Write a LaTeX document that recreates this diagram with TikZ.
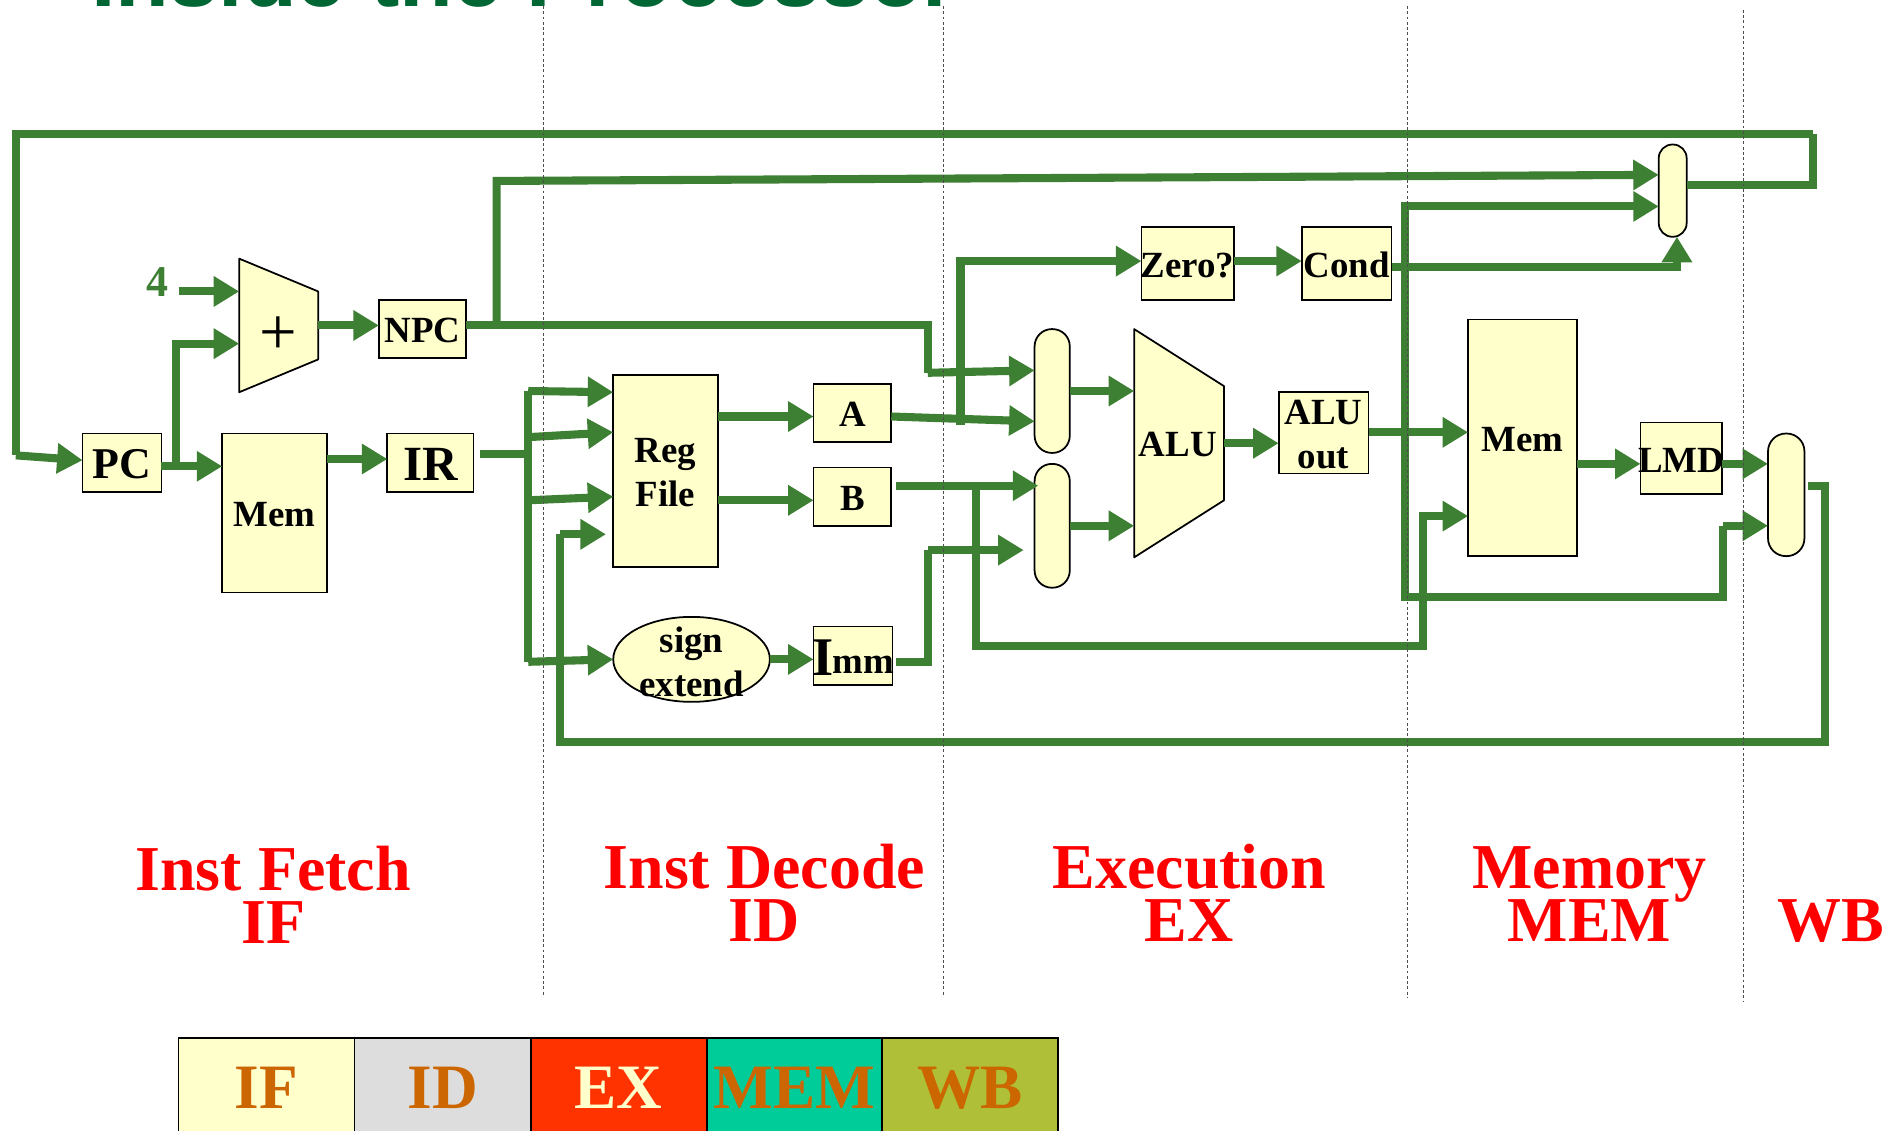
\documentclass[tikz,border=0pt]{standalone}
\usepackage{fontspec}
\usetikzlibrary{arrows.meta,shapes.geometric}
\setmainfont{Liberation Serif}
\newfontfamily\titlefont{Liberation Sans}
\newlength{\ux}\setlength{\ux}{0.691pt}
\newcommand{\boxlabel}[1]{\raisebox{-1pt}[\height][\depth]{\makebox[0pt]{#1}}}
\definecolor{wiregreen}{HTML}{3E8033}
\definecolor{boxfill}{HTML}{FFFFCC}
\definecolor{titlegreen}{HTML}{006633}
\definecolor{labelorange}{HTML}{CC6600}
\definecolor{cellgray}{HTML}{DDDDDD}
\definecolor{cellred}{HTML}{FF3300}
\definecolor{cellteal}{HTML}{00CC99}
\definecolor{cellolive}{HTML}{AFBF37}
\tikzset{
  unit box/.style 2 args={draw=black,fill=boxfill,line width=1pt,inner sep=0pt,outer sep=0pt,
    minimum width=#1*\ux,minimum height=#2*\ux,align=center,font=\bfseries\fontsize{21}{25}\selectfont},
  mux/.style 2 args={unit box={#1}{#2},rounded corners=0.49*#1*\ux},
  poly/.style={draw=black,fill=boxfill,line width=1pt,line join=round},
  polytext/.style={inner sep=0pt,align=center,font=\bfseries\fontsize{21}{25}\selectfont},
  wire/.style={draw=wiregreen,line width=4.6pt,line join=miter},
  arrowwire/.style={wire,-{Triangle[length=14.5pt,width=16.5pt]}},
  phase/.style={inner sep=0pt,anchor=base,text=red,font=\bfseries\fontsize{36.4}{36.4}\selectfont},
  cell/.style={draw=black,line width=1pt,inner sep=0pt,outer sep=0pt,minimum width=145*\ux,minimum height=82*\ux,
    text=labelorange,font=\bfseries\fontsize{36}{36}\selectfont},
  stage/.style={draw=black!70,line width=0.4pt,dash pattern=on 1.6pt off 1.4pt},
}
\begin{document}
\begin{tikzpicture}[x=0.024286cm,y=-0.024286cm]
\useasboundingbox (0,0) rectangle (1568,931);
\clip (0,0) rectangle (1568,931);

\node[anchor=base west,inner sep=0pt,text=titlegreen,font=\titlefont\bfseries\fontsize{50.1}{60}\selectfont] (title) at (75,5) {Inside the Processor};

% units
\node[unit box={65}{48},font=\bfseries\fontsize{25}{25}\selectfont] (pc) at (100.5,381) {\boxlabel{PC}};
\node[unit box={86}{131}] (imem) at (226,422.5) {\boxlabel{Mem}};
\node[unit box={71}{48},font=\bfseries\fontsize{28}{28}\selectfont] (ir) at (354.5,381) {\boxlabel{IR}};
\node[unit box={72}{48}] (npc) at (348,271) {\boxlabel{NPC}};
\node[unit box={86}{158}] (reg) at (548,388) {\boxlabel{Reg}\\\boxlabel{File}};
\node[unit box={64}{48}] (a) at (702,340) {\boxlabel{A}};
\node[unit box={64}{48}] (b) at (702,409) {\boxlabel{B}};
\node[unit box={1}{1},ellipse,minimum width=129*\ux,minimum height=70*\ux] (sext) at (569.5,543) {};
\node[polytext] (sexttext) at (569.5,543.5) {\boxlabel{sign}\\\boxlabel{extend}};
\node[unit box={65}{48}] (imm) at (702.5,540) {\boxlabel{\raisebox{-1pt}{\fontsize{31}{31}\selectfont I}\kern-0.5pt mm}};
\node[unit box={76}{60}] (zero) at (978,217) {\boxlabel{Zero?}};
\node[unit box={74}{60}] (cond) at (1109,217) {\boxlabel{Cond}};
\node[mux={29}{102}] (mux1) at (866.5,322) {};
\node[mux={29}{102}] (mux2) at (866.5,433) {};
\node[unit box={74}{67}] (aluout) at (1090,356.5) {\boxlabel{ALU}\\\boxlabel{out}};
\node[unit box={90}{195}] (dmem) at (1254,360.5) {\boxlabel{Mem}};
\node[unit box={67}{59}] (lmd) at (1384.5,377.5) {\boxlabel{LMD}};
\node[mux={30}{101}] (mux3) at (1471,407.5) {};
\node[mux={23}{76}] (mux4) at (1377.5,157) {};

\draw[poly] (197,213) coordinate (addtl) -- (262,240) -- (262,296) -- (197,323) coordinate (addbl) -- cycle;
\coordinate (addw) at (197,268);
\coordinate (adde) at (262,268);
\node[inner sep=0pt,font=\fontsize{38}{38}\selectfont] (plus) at (229,276) {+};
\draw[poly] (934,271) -- (1008,318) -- (1008,412) -- (934,459) -- cycle;
\coordinate (aluw) at (934,365);
\coordinate (alue) at (1008,365);
\node[polytext] (alu) at (970,366) {ALU};
\node[inner sep=0pt,text=wiregreen,font=\bfseries\fontsize{25}{25}\selectfont] (four) at (129.5,232) {4};
\coordinate (fourout) at (147,240);

% named levels and junctions
\coordinate (lpc) at (0,384);
\coordinate (lnpc) at (0,268);
\coordinate (jfb) at (13,375);
\coordinate (jtopl) at (13,110);
\coordinate (jtopr) at (1493,110);
\coordinate (jback) at (1493,152);
\coordinate (jpcup) at (145,384);
\coordinate (jpcadd) at (145,283);
\coordinate (jnpcup) at (409,268);
\coordinate (jnpctop) at (409,149);
\coordinate (jnpc1) at (764,268);
\coordinate (jnpc2) at (764,307);
\coordinate (irout) at (395,374);
\coordinate (jbus) at (435,374);
\coordinate (jbus1) at (435,322);
\coordinate (jbus2) at (435,360);
\coordinate (jbus3) at (435,412);
\coordinate (jbus4) at (435,545);
\coordinate (jzero1) at (791,350);
\coordinate (jzero2) at (791,215);
\coordinate (bout) at (738,400);
\coordinate (jb) at (804,400);
\coordinate (jb2) at (804,532);
\coordinate (jb3) at (1172,532);
\coordinate (jb4) at (1172,425);
\coordinate (immout) at (738,545);
\coordinate (jimm1) at (764,545);
\coordinate (jimm2) at (764,453);
\coordinate (jao) at (1157,356);
\coordinate (jao1) at (1157,170);
\coordinate (jao2) at (1157,492);
\coordinate (jao3) at (1419,492);
\coordinate (jao4) at (1419,433);
\coordinate (jcond) at (1381,220);
\coordinate (mx3out) at (1489,400);
\coordinate (jwb1) at (1503,400);
\coordinate (jwb2) at (1503,611);
\coordinate (jwb3) at (461,611);
\coordinate (jwb4) at (461,440);
\coordinate (pcin) at (68,379);
\coordinate (mux2in) at (855,400);
\coordinate (mux2inb) at (843,453);
\coordinate (regin) at (499,440);

% connectors
\draw[wire] (jtopr) -- (jtopl) -- (jfb);
\draw[arrowwire] (jfb) -- (pcin);
\draw[wire] (mux4.east |- jback) -- (jback) -- (jtopr);
\draw[arrowwire] (fourout) -- (fourout -| addtl);
\draw[arrowwire] (pc.east |- lpc) -- (imem.west |- lpc);
\draw[arrowwire] (jpcup) -- (jpcadd) -- (jpcadd -| addw);
\draw[arrowwire] (adde) -- (adde -| npc.west);
\draw[arrowwire] (imem.east |- 0,378) -- (ir.west |- 0,378);
\draw[wire] (npc.east |- lnpc) -- (jnpc1) -- (jnpc2);
\draw[arrowwire] (jnpc2) -- (mux1.west |- 0,305);
\draw[arrowwire] (jnpcup) -- (jnpctop) -- (mux4.west |- 0,144);
\draw[wire] (irout) -- (jbus);
\draw[wire] (jbus1) -- (jbus4);
\draw[arrowwire] (jbus1) -- (reg.west |- 0,323);
\draw[arrowwire] (jbus2) -- (reg.west |- 0,356);
\draw[arrowwire] (jbus3) -- (reg.west |- 0,409);
\draw[arrowwire] (jbus4) -- (sext.west |- 0,543);
\draw[arrowwire] (reg.east |- 0,343) -- (a.west |- 0,343);
\draw[arrowwire] (reg.east |- 0,412) -- (b.west |- 0,412);
\draw[arrowwire] (sext.east) -- (imm.west |- sext.east);
\draw[arrowwire] (a.east |- 0,343) -- (mux1.west |- 0,347);
\draw[arrowwire] (bout) -- (mux2in);
\draw[wire] (immout) -- (jimm1) -- (jimm2);
\draw[arrowwire] (jimm2) -- (mux2inb);
\draw[arrowwire] (jzero1) -- (jzero2) -- (zero.west |- jzero2);
\draw[arrowwire] (jb) -- (jb2) -- (jb3) -- (jb4) -- (dmem.west |- jb4);
\draw[arrowwire] (zero.east |- jzero2) -- (cond.west |- jzero2);
\draw[arrowwire] (cond.east |- jcond) -- (jcond) -- (jcond |- mux4.south);
\draw[arrowwire] (mux1.east) -- (mux1.east -| aluw);
\draw[arrowwire] (mux2.east) -- (mux2.east -| aluw);
\draw[arrowwire] (alue) -- (alue -| aluout.west);
\draw[arrowwire] (aluout.east |- jao) -- (dmem.west |- jao);
\draw[arrowwire] (jao) -- (jao1) -- (mux4.west |- jao1);
\draw[wire] (jao) -- (jao2) -- (jao3) -- (jao4);
\draw[arrowwire] (jao4) -- (mux3.west |- jao4);
\draw[arrowwire] (dmem.east |- 0,382) -- (lmd.west |- 0,382);
\draw[arrowwire] (lmd.east |- 0,382) -- (mux3.west |- 0,382);
\draw[wire] (mx3out) -- (jwb1) -- (jwb2) -- (jwb3) -- (jwb4);
\draw[arrowwire] (jwb4) -- (regin);

% stage separators
\coordinate (s1a) at (447.5,5); \coordinate (s1b) at (447.5,821);
\coordinate (s2a) at (777,5); \coordinate (s2b) at (777,821);
\coordinate (s3a) at (1159,5); \coordinate (s3b) at (1159,822);
\coordinate (s4a) at (1436,8); \coordinate (s4b) at (1436,825);
\draw[stage] (s1a) -- (s1b);
\draw[stage] (s2a) -- (s2b);
\draw[stage] (s3a) -- (s3b);
\draw[stage] (s4a) -- (s4b);

% stage names
\node[phase] (ph1a) at (225,733) {Inst Fetch};
\node[phase] (ph1b) at (225,776.6) {IF};
\node[phase] (ph2a) at (629.5,731.5) {Inst Decode};
\node[phase] (ph2b) at (629.5,775.5) {ID};
\node[phase] (ph3a) at (979.5,731.5) {Execution};
\node[phase] (ph3b) at (979.5,775.5) {EX};
\node[phase] (ph4a) at (1309,731.5) {Memory};
\node[phase] (ph4b) at (1309,775.5) {MEM};
\node[phase] (ph5) at (1508,775.5) {WB};

% legend
\node[cell,fill=boxfill] (c1) at (219.5,896) {IF};
\node[cell,fill=cellgray] (c2) at (364.5,896) {ID};
\node[cell,fill=cellred,text=boxfill] (c3) at (509.5,896) {EX};
\node[cell,fill=cellteal] (c4) at (654.5,896) {MEM};
\node[cell,fill=cellolive] (c5) at (799,896) {WB};
\end{tikzpicture}
\end{document}
